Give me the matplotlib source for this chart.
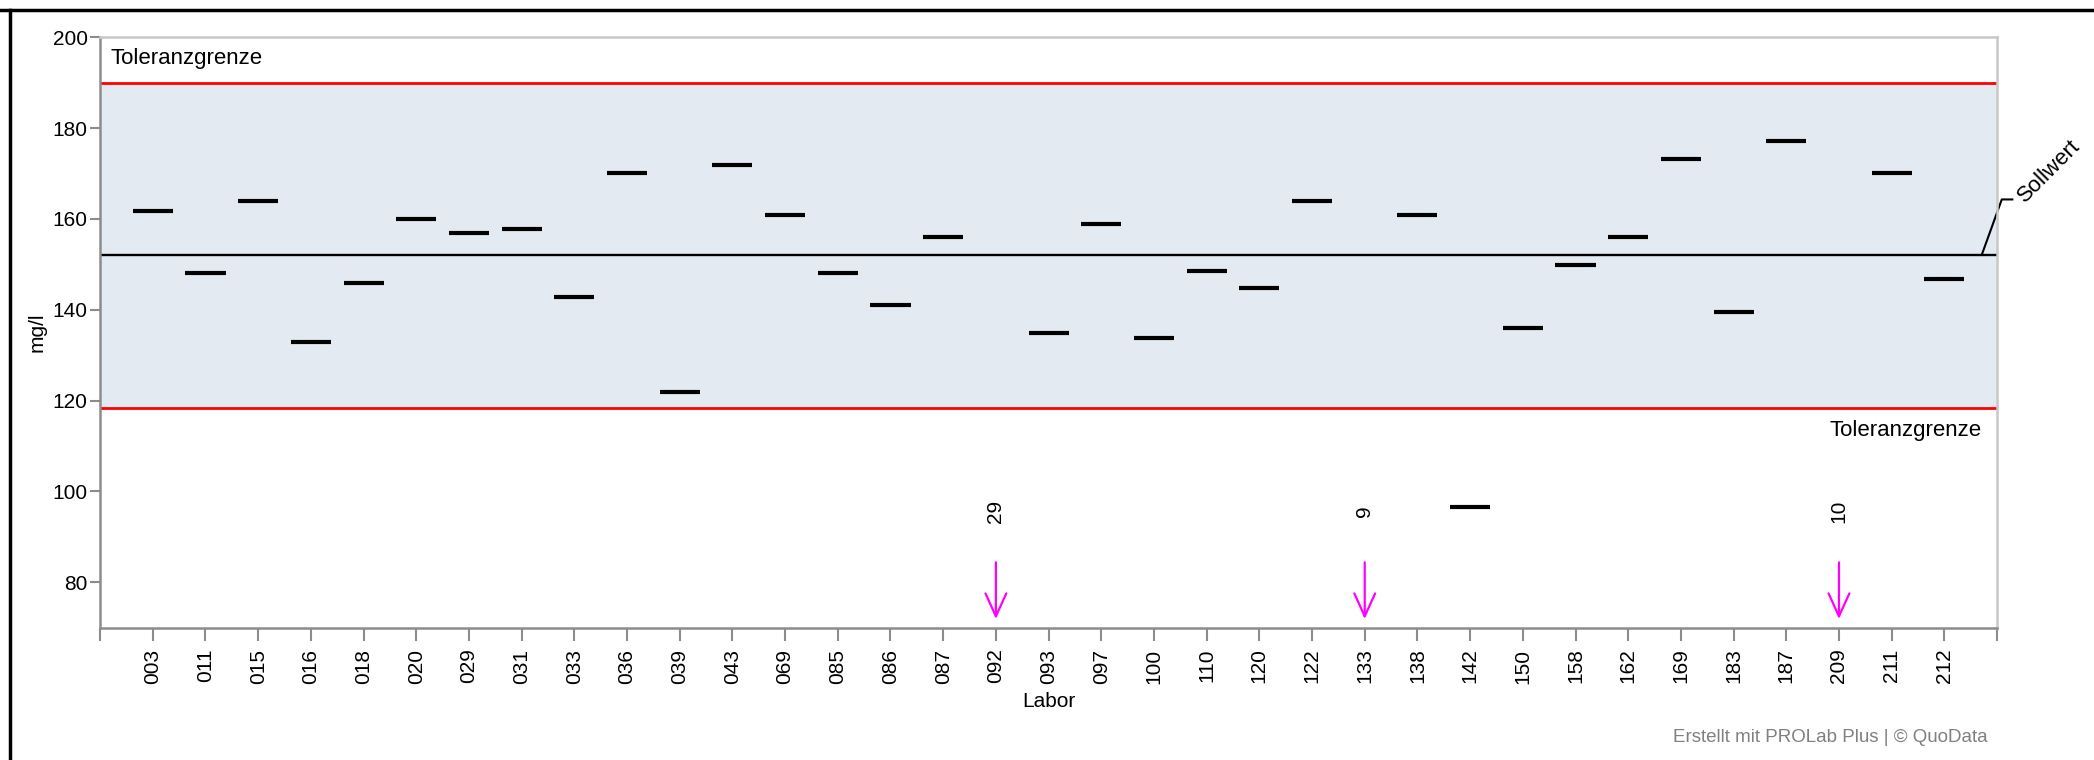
import numpy as np
import matplotlib
matplotlib.use("Agg")
import matplotlib.pyplot as plt
from matplotlib.lines import Line2D

plt.rcParams['font.family'] = ['Liberation Sans', 'DejaVu Sans']
plt.rcParams['font.size'] = 15

# lab codes and results (mg/l); None = result far below the axis (shown as arrow)
labs = ['003', '011', '015', '016', '018', '020', '029', '031', '033', '036',
        '039', '043', '069', '085', '086', '087', '092', '093', '097', '100',
        '110', '120', '122', '133', '138', '142', '150', '158', '162', '169',
        '183', '187', '209', '211', '212']
values = [161.7, 148.1, 164.0, 132.9, 145.9, 160.0, 156.9, 157.8, 142.8, 170.1,
          121.8, 171.8, 160.8, 148.1, 141.0, 156.0, None, 135.0, 159.0, 133.7,
          148.5, 144.9, 163.9, None, 160.8, 96.6, 135.9, 149.8, 156.0, 173.2,
          139.6, 177.1, None, 170.1, 146.7]
off_labs = ['092', '133', '209']
off_texts = ['29', '9', '10']

sollwert = 152.1
tol_upper = 190.0
tol_lower = 118.3

fig = plt.figure(figsize=(20.94, 7.6), dpi=100)
ax = fig.add_axes([0.0478, 0.1741, 0.9059, 0.7768])

x = np.arange(1, len(labs) + 1)
ax.set_xlim(0, len(labs) + 1)
ax.set_ylim(70, 200)

# tolerance band
ax.axhspan(tol_lower, tol_upper, color='#E4EAF1', zorder=0, lw=0)
ax.axhline(tol_upper, color='#FF0000', lw=2, zorder=2)
ax.axhline(tol_lower, color='#FF0000', lw=2, zorder=2)
ax.axhline(sollwert, color='black', lw=1.7, zorder=2)

# lab results as short horizontal bars
for xi, v in zip(x, values):
    if v is not None:
        ax.hlines(v, xi - 0.38, xi + 0.38, colors='black', lw=3, zorder=3)

# off-scale results: arrows with count
for lab, t in zip(off_labs, off_texts):
    xi = labs.index(lab) + 1
    ax.annotate('', xy=(xi, 71.3), xytext=(xi, 85),
                arrowprops=dict(arrowstyle='->,head_length=1.1,head_width=0.5',
                                color='#FF00FF', lw=1.6))
    ax.text(xi, 95.7, t, rotation=90, ha='center', va='center', fontsize=15)

ax.text(0.2, 195.3, 'Toleranzgrenze', ha='left', va='center', fontsize=16)
ax.text(35.7, 113.4, 'Toleranzgrenze', ha='right', va='center', fontsize=16)

# Sollwert leader + label
ax.add_line(Line2D([35.71, 36.09, 36.29], [152.1, 164.3, 164.3],
                   color='black', lw=1.5, clip_on=False))
ax.text(36.45, 164.3, 'Sollwert', rotation=45, rotation_mode='anchor',
        ha='left', va='center', fontsize=16)

ax.set_xticks(np.arange(0, len(labs) + 2))
ax.set_xticklabels([''] + labs + [''], rotation=90)
ax.set_yticks(np.arange(80, 201, 20))
ax.tick_params(axis='x', length=9, width=1.5, color='#8C8C8C', pad=6)
ax.tick_params(axis='y', length=7, width=1.5, color='#8C8C8C', pad=2)

for s in ['left', 'bottom']:
    ax.spines[s].set_color('#8C8C8C')
    ax.spines[s].set_linewidth(1.8)
for s in ['top', 'right']:
    ax.spines[s].set_color('#C8C8C8')
    ax.spines[s].set_linewidth(1.8)

ax.set_xlabel('Labor', fontsize=15, labelpad=6)
ax.set_ylabel('mg/l', fontsize=15, labelpad=4.5)

fig.text(0.9494, 0.030, 'Erstellt mit PROLab Plus | \u00a9 QuoData',
         ha='right', va='center', color='#808080', fontsize=13.5)

# outer frame of the (cropped) report figure
fig.add_artist(Line2D([0, 1], [1 - 10 / 760, 1 - 10 / 760], color='black', lw=2.5,
                      transform=fig.transFigure))
fig.add_artist(Line2D([10 / 2094, 10 / 2094], [0, 1 - 10 / 760], color='black', lw=2.5,
                      transform=fig.transFigure))

fig.savefig('out.png', dpi=100)
